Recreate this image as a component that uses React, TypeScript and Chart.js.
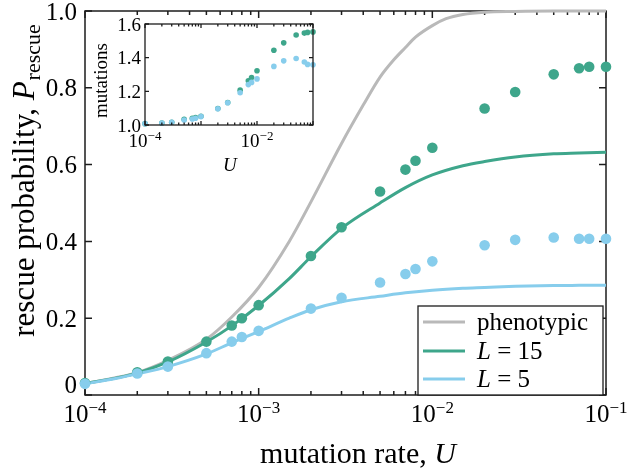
import React, { useEffect, useRef } from "react";
import { Chart, registerables } from "chart.js";
Chart.register(...registerables);

const SERIF = '"Liberation Serif", "Times New Roman", serif';

// ---------------- data ----------------
// phenotypic curve
const U_PHENO = [1e-4, 1.5e-4, 2e-4, 3e-4, 5e-4, 7e-4, 1e-3, 1.5e-3, 2e-3, 3e-3, 4e-3, 5e-3, 6e-3, 7e-3, 8e-3, 1e-2, 1.2e-2, 1.5e-2, 2e-2, 3e-2, 5e-2, 7e-2, 1e-1];
const P_PHENOTYPIC = [0.03, 0.045, 0.058, 0.09, 0.145, 0.203, 0.28, 0.4, 0.503, 0.655, 0.755, 0.828, 0.873, 0.905, 0.932, 0.962, 0.98, 0.991, 0.997, 0.999, 1.0, 1.0, 1.0];
// theory curves for L = 15 and L = 5
const U_THEORY = [1e-4, 1.5e-4, 2e-4, 3e-4, 5e-4, 7e-4, 1e-3, 1.5e-3, 2e-3, 3e-3, 5e-3, 7e-3, 1e-2, 1.5e-2, 2e-2, 3e-2, 5e-2, 7e-2, 1e-1];
const P_THEORY_L15 = [0.03, 0.044, 0.057, 0.086, 0.138, 0.18, 0.233, 0.303, 0.36, 0.434, 0.5, 0.54, 0.573, 0.597, 0.608, 0.62, 0.628, 0.63, 0.632];
const P_THEORY_L5 = [0.029, 0.043, 0.055, 0.074, 0.107, 0.136, 0.165, 0.2, 0.222, 0.243, 0.257, 0.266, 0.273, 0.278, 0.28, 0.283, 0.285, 0.2855, 0.286];

// simulations
const U_SIM = [1e-4, 2e-4, 3e-4, 5e-4, 7e-4, 8e-4, 1e-3, 2e-3, 3e-3, 5e-3, 7e-3, 8e-3, 1e-2, 2e-2, 3e-2, 5e-2, 7e-2, 8e-2, 1e-1];
const P_SIM_L15 = [0.031, 0.059, 0.087, 0.139, 0.181, 0.2, 0.234, 0.362, 0.437, 0.53, 0.587, 0.61, 0.644, 0.746, 0.789, 0.835, 0.851, 0.855, 0.855];
const P_SIM_L5 = [0.029, 0.056, 0.074, 0.109, 0.139, 0.151, 0.167, 0.225, 0.253, 0.293, 0.315, 0.328, 0.348, 0.39, 0.404, 0.41, 0.407, 0.407, 0.407];
const MUT_SIM_L15 = [1.008, 1.012, 1.016, 1.034, 1.04, 1.044, 1.052, 1.098, 1.134, 1.207, 1.263, 1.282, 1.322, 1.444, 1.488, 1.535, 1.546, 1.55, 1.553];
const MUT_SIM_L5 = [1.008, 1.012, 1.016, 1.03, 1.036, 1.04, 1.05, 1.096, 1.132, 1.192, 1.24, 1.253, 1.274, 1.348, 1.381, 1.395, 1.374, 1.36, 1.358];

// ticks
const X_MAJOR_TICKS = [1e-4, 1e-3, 1e-2, 1e-1];
const X_TICK_EXPONENTS = ["\u22124", "\u22123", "\u22122", "\u22121"];
const MINOR_MULT = [2, 3, 4, 5, 6, 7, 8, 9];
const MAIN_Y_TICKS = [0, 0.2, 0.4, 0.6, 0.8, 1.0];
const MAIN_Y_TICK_LABELS = ["0", "0.2", "0.4", "0.6", "0.8", "1.0"];
const INSET_Y_TICKS = [1.0, 1.2, 1.4, 1.6];
const INSET_Y_TICK_LABELS = ["1.0", "1.2", "1.4", "1.6"];
const INSET_X_LABEL_TICKS = [1e-4, 1e-2];
const INSET_X_LABEL_EXPONENTS = ["\u22124", "\u22122"];

const LEGEND_LABELS: { t: string; i?: boolean }[][] = [
  [{ t: "phenotypic" }],
  [{ t: "L", i: true }, { t: " = 15" }],
  [{ t: "L", i: true }, { t: " = 5" }],
];

const GREEN = "#3ea68b";
const BLUE = "#87cdec";
const GREY = "#b9b9b9";
const INK = "#1c1c1c";

// ---------------- helpers ----------------
const pts = (xs: number[], ys: number[]) => xs.map((x, i) => ({ x, y: ys[i] }));

function minorTicks(majors: number[]) {
  const out: number[] = [];
  for (let i = 0; i < majors.length - 1; i++) for (const m of MINOR_MULT) out.push(majors[i] * m);
  return out;
}

function drawFrameTicks(chart: any, o: { lw: number; maj: number; min: number; yTicks: number[] }) {
  const ctx = chart.ctx as CanvasRenderingContext2D;
  const { left, right, top, bottom } = chart.chartArea;
  const xs = chart.scales.x, ys = chart.scales.y;
  ctx.save();
  ctx.strokeStyle = INK;
  ctx.lineWidth = o.lw;
  ctx.beginPath();
  for (const v of X_MAJOR_TICKS) {
    const p = xs.getPixelForValue(v);
    ctx.moveTo(p, bottom); ctx.lineTo(p, bottom - o.maj);
    ctx.moveTo(p, top); ctx.lineTo(p, top + o.maj);
  }
  for (const v of minorTicks(X_MAJOR_TICKS)) {
    const p = xs.getPixelForValue(v);
    ctx.moveTo(p, bottom); ctx.lineTo(p, bottom - o.min);
    ctx.moveTo(p, top); ctx.lineTo(p, top + o.min);
  }
  for (const v of o.yTicks) {
    const p = ys.getPixelForValue(v);
    ctx.moveTo(left, p); ctx.lineTo(left + o.maj, p);
    ctx.moveTo(right, p); ctx.lineTo(right - o.maj, p);
  }
  ctx.stroke();
  ctx.strokeRect(left, top, right - left, bottom - top);
  ctx.restore();
}

function drawPow(ctx: CanvasRenderingContext2D, cx: number, baseY: number, exp: string, size: number, supSize: number, rise: number) {
  ctx.font = `${size}px ${SERIF}`;
  const wb = ctx.measureText("10").width;
  ctx.font = `${supSize}px ${SERIF}`;
  const ws = ctx.measureText(exp).width;
  const x0 = cx - (wb + ws) / 2;
  ctx.textAlign = "left";
  ctx.textBaseline = "alphabetic";
  ctx.font = `${size}px ${SERIF}`;
  ctx.fillText("10", x0, baseY);
  ctx.font = `${supSize}px ${SERIF}`;
  ctx.fillText(exp, x0 + wb, baseY - rise);
}

function drawRich(ctx: CanvasRenderingContext2D, parts: { t: string; i?: boolean }[], x: number, y: number, size: number) {
  ctx.textAlign = "left";
  ctx.textBaseline = "alphabetic";
  let cx = x;
  for (const p of parts) {
    ctx.font = `${p.i ? "italic " : ""}${size}px ${SERIF}`;
    ctx.fillText(p.t, cx, y);
    cx += ctx.measureText(p.t).width;
  }
}

function richWidth(ctx: CanvasRenderingContext2D, parts: { t: string; i?: boolean }[], size: number) {
  let w = 0;
  for (const p of parts) {
    ctx.font = `${p.i ? "italic " : ""}${size}px ${SERIF}`;
    w += ctx.measureText(p.t).width;
  }
  return w;
}

// ---------------- plugins ----------------
const mainDecor = {
  id: "mainDecor",
  beforeDatasetsDraw(chart: any) {
    drawFrameTicks(chart, { lw: 1.5, maj: 7, min: 4, yTicks: MAIN_Y_TICKS });
  },
  afterDatasetsDraw(chart: any) {
    const ctx = chart.ctx as CanvasRenderingContext2D;
    const { right, bottom } = chart.chartArea;
    // legend
    const bx = 418, by = 306, bw = right - 3 - 418, bh = bottom - 306;
    ctx.save();
    ctx.fillStyle = "#fff";
    ctx.fillRect(bx, by, bw, bh);
    ctx.strokeStyle = INK;
    ctx.lineWidth = 1.3;
    ctx.strokeRect(bx, by, bw, bh);
    const colors = [GREY, GREEN, BLUE];
    const rows = [322, 351, 379];
    ctx.lineWidth = 3;
    rows.forEach((ry, i) => {
      ctx.strokeStyle = colors[i];
      ctx.beginPath();
      ctx.moveTo(423, ry);
      ctx.lineTo(465, ry);
      ctx.stroke();
      ctx.fillStyle = "#000";
      drawRich(ctx, LEGEND_LABELS[i], 477, ry + 8, 25);
    });
    ctx.restore();
  },
  afterDraw(chart: any) {
    const ctx = chart.ctx as CanvasRenderingContext2D;
    const xs = chart.scales.x, ys = chart.scales.y;
    const { left, bottom } = chart.chartArea;
    ctx.save();
    ctx.fillStyle = "#000";
    // y tick labels
    ctx.font = `25px ${SERIF}`;
    ctx.textAlign = "right";
    ctx.textBaseline = "alphabetic";
    MAIN_Y_TICKS.forEach((v, i) => {
      let p = ys.getPixelForValue(v) + 8.5;
      if (v === 0) p -= 11;
      ctx.fillText(MAIN_Y_TICK_LABELS[i], left - 8, p);
    });
    // x tick labels
    X_MAJOR_TICKS.forEach((v, i) => {
      drawPow(ctx, xs.getPixelForValue(v), bottom + 27, X_TICK_EXPONENTS[i], 25, 17, 9);
    });
    // x title
    const xt = [{ t: "mutation rate, " }, { t: "U", i: true }];
    const wx = richWidth(ctx, xt, 30);
    drawRich(ctx, xt, 358 - wx / 2, 463, 30);
    // y title
    ctx.translate(34, 181);
    ctx.rotate(-Math.PI / 2);
    ctx.font = `31px ${SERIF}`;
    const w1 = ctx.measureText("rescue probability, ").width;
    ctx.font = `italic 31px ${SERIF}`;
    const w2 = ctx.measureText("P").width;
    ctx.font = `22px ${SERIF}`;
    const w3 = ctx.measureText("rescue").width;
    let x = -(w1 + w2 + w3) / 2;
    ctx.textAlign = "left";
    ctx.font = `31px ${SERIF}`;
    ctx.fillText("rescue probability, ", x, 0);
    x += w1;
    ctx.font = `italic 31px ${SERIF}`;
    ctx.fillText("P", x, 0);
    x += w2;
    ctx.font = `22px ${SERIF}`;
    ctx.fillText("rescue", x + 1, 6);
    ctx.restore();
  },
};

const insetDecor = {
  id: "insetDecor",
  beforeDatasetsDraw(chart: any) {
    const ctx = chart.ctx as CanvasRenderingContext2D;
    const { left, right, top, bottom } = chart.chartArea;
    ctx.save();
    ctx.fillStyle = "#fff";
    ctx.fillRect(left, top, right - left, bottom - top);
    ctx.restore();
  },
  afterDraw(chart: any) {
    drawFrameTicks(chart, { lw: 1.3, maj: 4, min: 2.5, yTicks: INSET_Y_TICKS });
    const ctx = chart.ctx as CanvasRenderingContext2D;
    const xs = chart.scales.x, ys = chart.scales.y;
    const { left, right, bottom, top } = chart.chartArea;
    ctx.save();
    ctx.fillStyle = "#000";
    ctx.font = `19px ${SERIF}`;
    ctx.textAlign = "right";
    ctx.textBaseline = "alphabetic";
    INSET_Y_TICKS.forEach((v, i) => {
      ctx.fillText(INSET_Y_TICK_LABELS[i], left - 4, ys.getPixelForValue(v) + 6.5);
    });
    INSET_X_LABEL_TICKS.forEach((v, i) => {
      drawPow(ctx, xs.getPixelForValue(v), bottom + 22, INSET_X_LABEL_EXPONENTS[i], 19, 13, 7);
    });
    drawRich(ctx, [{ t: "U", i: true }], (left + right) / 2 - 6, bottom + 46, 19);
    ctx.translate(17, (top + bottom) / 2 + 6);
    ctx.rotate(-Math.PI / 2);
    ctx.font = `19px ${SERIF}`;
    ctx.textAlign = "center";
    ctx.fillText("mutations", 0, 0);
    ctx.restore();
  },
};

// ---------------- component ----------------
export default function App() {
  const mainRef = useRef<HTMLCanvasElement>(null);
  const insetRef = useRef<HTMLCanvasElement>(null);

  useEffect(() => {
    const lineDs = (label: string, xs: number[], ys: number[], color: string, order: number) => ({
      label,
      data: pts(xs, ys),
      showLine: true,
      borderColor: color,
      backgroundColor: color,
      borderWidth: 3,
      pointRadius: 0,
      cubicInterpolationMode: "monotone" as const,
      clip: false as any,
      order,
    });
    const dotDs = (label: string, xs: number[], ys: number[], color: string, r: number, order: number) => ({
      label,
      data: pts(xs, ys),
      showLine: false,
      backgroundColor: color,
      borderWidth: 0,
      pointRadius: r,
      clip: false as any,
      order,
    });

    const main = new Chart(mainRef.current as HTMLCanvasElement, {
      type: "scatter",
      data: {
        datasets: [
          lineDs("phenotypic", U_PHENO, P_PHENOTYPIC, GREY, 5),
          lineDs("L = 15", U_THEORY, P_THEORY_L15, GREEN, 4),
          lineDs("L = 5", U_THEORY, P_THEORY_L5, BLUE, 3),
          dotDs("L = 15 sim", U_SIM, P_SIM_L15, GREEN, 5.3, 2),
          dotDs("L = 5 sim", U_SIM, P_SIM_L5, BLUE, 5.3, 1),
        ] as any,
      },
      options: {
        responsive: false,
        animation: false,
        devicePixelRatio: 1,
        layout: { padding: { left: 85, top: 11, right: 22, bottom: 76 } },
        scales: {
          x: { type: "logarithmic", min: 1e-4, max: 1e-1, display: false },
          y: { type: "linear", min: 0, max: 1, display: false },
        },
        plugins: { legend: { display: false }, tooltip: { enabled: false } },
      },
      plugins: [mainDecor],
    });

    const inset = new Chart(insetRef.current as HTMLCanvasElement, {
      type: "scatter",
      data: {
        datasets: [
          dotDs("L = 15", U_SIM, MUT_SIM_L15, GREEN, 2.8, 2),
          dotDs("L = 5", U_SIM, MUT_SIM_L5, BLUE, 2.8, 1),
        ] as any,
      },
      options: {
        responsive: false,
        animation: false,
        devicePixelRatio: 1,
        layout: { padding: { left: 55, top: 24, right: 17, bottom: 65 } },
        scales: {
          x: { type: "logarithmic", min: 1e-4, max: 1e-1, display: false },
          y: { type: "linear", min: 1.0, max: 1.6, display: false },
        },
        plugins: { legend: { display: false }, tooltip: { enabled: false } },
      },
      plugins: [insetDecor],
    });

    return () => {
      main.destroy();
      inset.destroy();
    };
  }, []);

  return (
    <div style={{ position: "absolute", left: 0, top: 0, width: 628, height: 471, background: "#fff", overflow: "hidden" }}>
      <canvas ref={mainRef} width={628} height={471} style={{ position: "absolute", left: 0, top: 0, width: 628, height: 471 }} />
      <canvas ref={insetRef} width={240} height={190} style={{ position: "absolute", left: 90, top: 0, width: 240, height: 190 }} />
    </div>
  );
}
